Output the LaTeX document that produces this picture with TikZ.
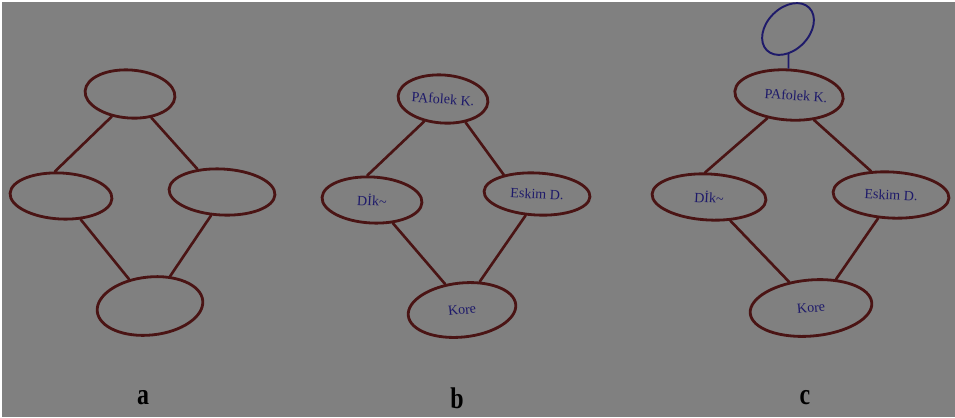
\documentclass[tikz,border=0pt]{standalone}
\usepackage{fontspec}
\setmainfont{Liberation Serif}
\usetikzlibrary{shapes.geometric}
\definecolor{bg}{HTML}{808080}
\definecolor{ink}{HTML}{4A1414}
\definecolor{pen}{HTML}{1E1A6A}
\tikzset{
  oval/.style 2 args={ellipse, draw=ink, line width=1.6pt, inner sep=0pt, text=pen,
     font=\fontsize{8}{9}\selectfont, minimum width=#1*0.02cm, minimum height=#2*0.02cm},
  edge/.style={draw=ink, line width=1.5pt, line cap=round},
  captxt/.style={font=\bfseries\fontsize{17}{18}\selectfont, text=black, xscale=0.8}
}
\begin{document}
\begin{tikzpicture}[x=0.02cm, y=-0.02cm]
\fill[white] (0,0) rectangle (955,417);
\fill[bg] (2,2) rectangle (955,417);
\useasboundingbox (0,0) rectangle (955,417);
% panel a
\node[oval={90}{48}, rotate=-4] (aT) at (130,94) {};
\node[oval={102}{46}, rotate=-3] (aL) at (61,196) {};
\node[oval={106}{46}, rotate=-3] (aR) at (222,192) {};
\node[oval={106}{58}, rotate=6] (aB) at (150,306) {};
\draw[edge] (aT.235) -- (aL.107);
\draw[edge] (aT.316) -- (aR.140);
\draw[edge] (aL.313) -- (aB.122);
\draw[edge] (aR.248) -- (aB.50);
% panel b
\node[oval={90}{48}, rotate=-4] (bT) at (443,99) {\raisebox{-4pt}{PAfolek K.}};
\node[oval={100}{46}, rotate=-3] (bL) at (372,200) {\raisebox{-3pt}{D\.Ik\textasciitilde}\hspace{8pt}};
\node[oval={106}{42}, rotate=-3] (bR) at (537,194) {\raisebox{-5pt}{Eskim D.}\hspace{6pt}};
\node[oval={108}{54}, rotate=6] (bB) at (462,310) {\raisebox{-4pt}{Kore}\hspace{12pt}};
\draw[edge] (bT.234) -- (bL.104);
\draw[edge] (bT.318) -- (bR.153);
\draw[edge] (bL.315) -- (bB.117);
\draw[edge] (bR.245) -- (bB.52);
% panel c
\node[ellipse, draw=pen, line width=1.1pt, inner sep=0pt, minimum width=60*0.02cm, minimum height=42*0.02cm, rotate=45] (cS) at (788,29) {};
\node[oval={102}{50}, rotate=-4] (cT) at (789,95) {\raisebox{-4pt}{\hspace{8pt}PAfolek K.}};
\node[oval={114}{46}, rotate=-3] (cL) at (709,197) {\raisebox{-3pt}{D\.Ik\textasciitilde}\hspace{10pt}};
\node[oval={116}{46}, rotate=-3] (cR) at (891,195) {\raisebox{-5pt}{Eskim D.}};
\node[oval={122}{56}, rotate=5] (cB) at (811,308) {\raisebox{-5pt}{Kore}\hspace{10pt}};
\draw[draw=pen, line width=1pt] (cS) -- (cT);
\draw[edge] (cT.231) -- (cL.102);
\draw[edge] (cT.319) -- (cR.133);
\draw[edge] (cL.315) -- (cB.125);
\draw[edge] (cR.244) -- (cB.44);
% captions
\node[captxt] (la) at (143,398) {a};
\node[captxt] (lb) at (457,398) {b};
\node[captxt] (lc) at (805,398) {c};
\end{tikzpicture}
\end{document}
